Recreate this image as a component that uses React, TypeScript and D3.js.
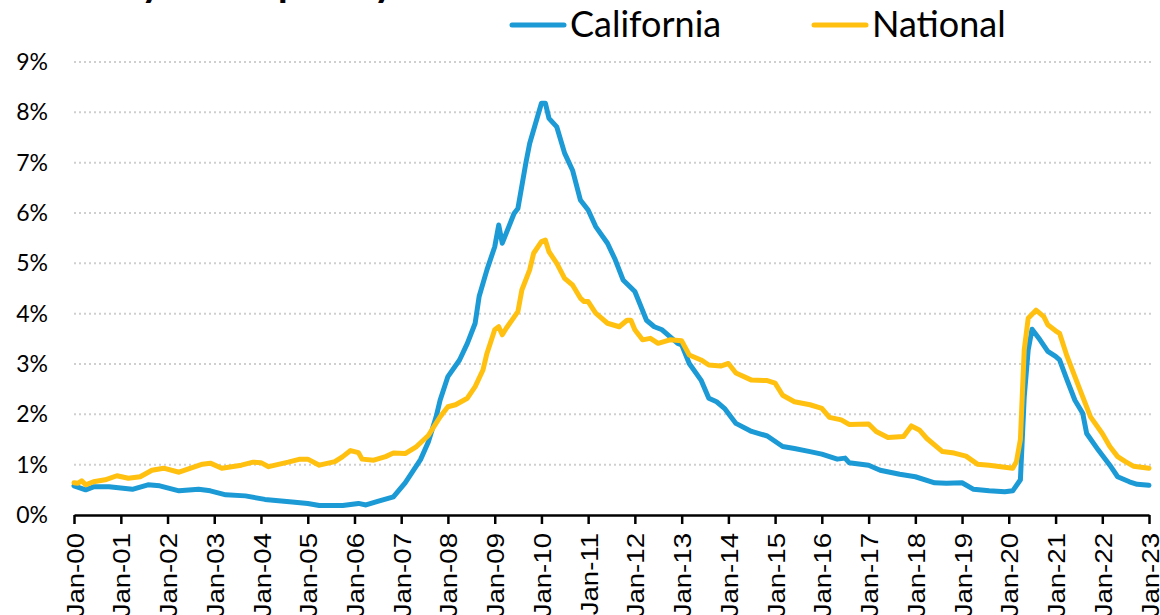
import { useEffect, useRef } from 'react'
import * as d3 from 'd3'

// California 90+ day delinquency (%)
const CA_DATES = [
  '2000-01', '2000-04', '2000-06', '2000-10', '2001-04', '2001-08', '2001-11', '2002-04', '2002-09', '2002-12',
  '2003-04', '2003-09', '2004-02', '2004-09', '2005-01', '2005-04', '2005-10', '2006-02', '2006-04', '2006-07',
  '2006-11', '2007-02', '2007-06', '2007-08', '2007-10', '2007-11', '2008-01', '2008-04', '2008-06', '2008-08',
  '2008-09', '2008-11', '2009-01', '2009-02', '2009-03', '2009-06', '2009-07', '2009-09', '2009-10', '2010-01',
  '2010-02', '2010-03', '2010-05', '2010-07', '2010-09', '2010-11', '2011-01', '2011-03', '2011-06', '2011-08',
  '2011-10', '2012-01', '2012-04', '2012-06', '2012-08', '2012-12', '2013-01', '2013-03', '2013-06', '2013-08',
  '2013-10', '2013-12', '2014-03', '2014-07', '2014-11', '2015-03', '2015-06', '2015-10', '2016-01', '2016-05',
  '2016-07', '2016-08', '2017-01', '2017-04', '2017-09', '2018-01', '2018-06', '2018-09', '2019-01', '2019-04',
  '2019-08', '2019-12', '2020-02', '2020-04', '2020-05', '2020-06', '2020-07', '2020-09', '2020-11', '2021-01',
  '2021-02', '2021-04', '2021-06', '2021-08', '2021-09', '2021-12', '2022-03', '2022-05', '2022-08', '2022-10',
  '2023-01',
]
const CA_VALUES = [
  0.58, 0.5, 0.56, 0.56, 0.51, 0.6, 0.58, 0.48, 0.51, 0.48,
  0.4, 0.38, 0.31, 0.26, 0.23, 0.19, 0.19, 0.23, 0.2, 0.27,
  0.36, 0.64, 1.1, 1.45, 1.95, 2.28, 2.75, 3.08, 3.41, 3.81,
  4.34, 4.87, 5.33, 5.76, 5.4, 5.99, 6.09, 6.99, 7.38, 8.18,
  8.18, 7.88, 7.71, 7.19, 6.85, 6.26, 6.06, 5.73, 5.4, 5.07,
  4.67, 4.44, 3.87, 3.74, 3.68, 3.41, 3.38, 3.01, 2.68, 2.32,
  2.25, 2.12, 1.82, 1.66, 1.57, 1.36, 1.32, 1.26, 1.21, 1.11,
  1.13, 1.04, 0.99, 0.89, 0.81, 0.76, 0.64, 0.63, 0.64, 0.51,
  0.48, 0.46, 0.48, 0.7, 2.35, 3.28, 3.69, 3.48, 3.25, 3.15,
  3.08, 2.68, 2.28, 2.02, 1.62, 1.29, 0.99, 0.76, 0.66, 0.61,
  0.59,
]

// National 90+ day delinquency (%)
const NAT_DATES = [
  '2000-01', '2000-02', '2000-03', '2000-04', '2000-06', '2000-09', '2000-12', '2001-03', '2001-06', '2001-09',
  '2001-12', '2002-04', '2002-07', '2002-10', '2002-12', '2003-03', '2003-08', '2003-11', '2004-01', '2004-03',
  '2004-08', '2004-11', '2005-01', '2005-04', '2005-08', '2005-10', '2005-12', '2006-02', '2006-03', '2006-06',
  '2006-09', '2006-11', '2007-02', '2007-05', '2007-08', '2007-11', '2008-01', '2008-03', '2008-06', '2008-08',
  '2008-10', '2008-11', '2009-01', '2009-02', '2009-03', '2009-04', '2009-07', '2009-08', '2009-10', '2009-11',
  '2010-01', '2010-02', '2010-03', '2010-05', '2010-07', '2010-09', '2010-11', '2010-12', '2011-01', '2011-03',
  '2011-06', '2011-09', '2011-11', '2011-12', '2012-01', '2012-03', '2012-05', '2012-07', '2012-10', '2013-01',
  '2013-03', '2013-06', '2013-08', '2013-11', '2014-01', '2014-03', '2014-07', '2014-11', '2015-01', '2015-03',
  '2015-06', '2015-10', '2016-01', '2016-03', '2016-06', '2016-08', '2017-01', '2017-03', '2017-06', '2017-10',
  '2017-12', '2018-02', '2018-04', '2018-08', '2018-11', '2019-02', '2019-05', '2019-08', '2019-11', '2020-02',
  '2020-03', '2020-04', '2020-05', '2020-06', '2020-08', '2020-10', '2020-11', '2021-01', '2021-02', '2021-04',
  '2021-07', '2021-10', '2022-01', '2022-03', '2022-05', '2022-07', '2022-09', '2023-01',
]
const NAT_VALUES = [
  0.64, 0.63, 0.68, 0.6, 0.66, 0.7, 0.78, 0.73, 0.76, 0.89,
  0.93, 0.85, 0.93, 1.01, 1.03, 0.93, 0.99, 1.05, 1.04, 0.96,
  1.05, 1.11, 1.11, 0.99, 1.06, 1.16, 1.28, 1.24, 1.11, 1.09,
  1.16, 1.23, 1.22, 1.36, 1.58, 1.95, 2.15, 2.19, 2.32, 2.55,
  2.88, 3.21, 3.68, 3.74, 3.58, 3.71, 4.04, 4.47, 4.87, 5.2,
  5.43, 5.46, 5.23, 5.0, 4.7, 4.57, 4.31, 4.24, 4.24, 4.01,
  3.81, 3.74, 3.87, 3.87, 3.68, 3.48, 3.51, 3.41, 3.48, 3.46,
  3.18, 3.08, 2.98, 2.96, 3.01, 2.82, 2.68, 2.67, 2.62, 2.38,
  2.25, 2.19, 2.12, 1.94, 1.89, 1.8, 1.81, 1.66, 1.54, 1.56,
  1.77, 1.69, 1.52, 1.26, 1.23, 1.17, 1.01, 0.99, 0.96, 0.93,
  1.06, 1.5, 3.28, 3.91, 4.07, 3.94, 3.78, 3.66, 3.61, 3.15,
  2.55, 1.95, 1.62, 1.36, 1.16, 1.06, 0.97, 0.93,
]

const SERIES = [
  { name: 'California', color: '#1b9ad6', dates: CA_DATES, values: CA_VALUES },
  { name: 'National', color: '#ffc010', dates: NAT_DATES, values: NAT_VALUES },
]

const Y_TICKS = [0, 1, 2, 3, 4, 5, 6, 7, 8, 9]
const TITLE = '90+ Day Delinquency Rate'

const WIDTH = 1160
const HEIGHT = 615
const X0 = 74
const X1 = 1149
const Y_BOTTOM = 515
const Y_TOP = 62

const parseMonth = d3.timeParse('%Y-%m')

export default function App() {
  const svgRef = useRef<SVGSVGElement>(null)

  useEffect(() => {
    if (!svgRef.current) return
    const svg = d3.select(svgRef.current)
    svg.selectAll('*').remove()

    const x = d3.scaleTime()
      .domain([parseMonth('2000-01')!, parseMonth('2023-01')!])
      .range([X0, X1])
    const y = d3.scaleLinear().domain([0, 9]).range([Y_BOTTOM, Y_TOP])

    // ── Title (only its descenders show at the top edge) ───────────────────
    svg.append('text')
      .attr('x', 12).attr('y', -4)
      .attr('font-family', 'Lato, sans-serif').attr('font-weight', 700)
      .attr('font-size', 40).attr('fill', '#000')
      .text(TITLE)

    // ── Grid lines + y labels ──────────────────────────────────────────────
    Y_TICKS.forEach((t) => {
      if (t > 0) {
        svg.append('line')
          .attr('x1', X0).attr('x2', X1 + 2)
          .attr('y1', y(t)).attr('y2', y(t))
          .attr('stroke', '#cfcfcf').attr('stroke-width', 2)
          .attr('stroke-dasharray', '2,3')
      }
      svg.append('text')
        .attr('x', 48).attr('y', y(t)).attr('dy', '0.35em')
        .attr('text-anchor', 'end')
        .attr('font-family', 'Lato, sans-serif').attr('font-size', 23)
        .attr('fill', '#000')
        .text(`${t}%`)
    })

    // ── X axis ─────────────────────────────────────────────────────────────
    const axis = svg.append('g').attr('transform', `translate(0,${Y_BOTTOM})`)
      .call(
        d3.axisBottom(x)
          .ticks(d3.timeYear.every(1))
          .tickSize(9)
          .tickSizeOuter(0)
          .tickFormat((d) => d3.timeFormat('Jan-%y')(d as Date))
      )
    axis.select('.domain').attr('stroke', '#000').attr('stroke-width', 2.5)
    axis.selectAll('.tick line').attr('stroke', '#000').attr('stroke-width', 2.5)
    axis.selectAll('.tick text')
      .attr('font-family', '"Liberation Sans", Arial, sans-serif')
      .attr('font-size', 23)
      .attr('fill', '#000')
      .attr('text-anchor', 'end')
      .attr('x', 0).attr('y', 0).attr('dy', '0.35em')
      .attr('transform', 'translate(1,18) rotate(-90) scale(1.2,1)')

    // ── Lines ──────────────────────────────────────────────────────────────
    SERIES.forEach((s) => {
      const pts = s.dates.map((d, i) => ({ date: parseMonth(d)!, v: s.values[i] }))
      const line = d3.line<{ date: Date; v: number }>()
        .x((d) => x(d.date))
        .y((d) => y(d.v))
      svg.append('path')
        .datum(pts)
        .attr('fill', 'none')
        .attr('stroke', s.color)
        .attr('stroke-width', 5)
        .attr('stroke-linejoin', 'round')
        .attr('stroke-linecap', 'round')
        .attr('d', line)
    })

    // ── Legend ─────────────────────────────────────────────────────────────
    const LEGEND_X = [512, 814]
    SERIES.forEach((s, i) => {
      const lx = LEGEND_X[i]
      svg.append('line')
        .attr('x1', lx).attr('x2', lx + 52).attr('y1', 25).attr('y2', 25)
        .attr('stroke', s.color).attr('stroke-width', 5).attr('stroke-linecap', 'round')
      svg.append('text')
        .attr('x', lx + 58).attr('y', 37)
        .attr('font-family', 'Lato, sans-serif').attr('font-size', 36)
        .attr('fill', '#000')
        .text(s.name)
    })
  }, [])

  return (
    <div style={{ position: 'fixed', left: 0, top: 0, width: WIDTH, height: HEIGHT, background: '#fff' }}>
      <svg ref={svgRef} width={WIDTH} height={HEIGHT} style={{ display: 'block' }} />
    </div>
  )
}
